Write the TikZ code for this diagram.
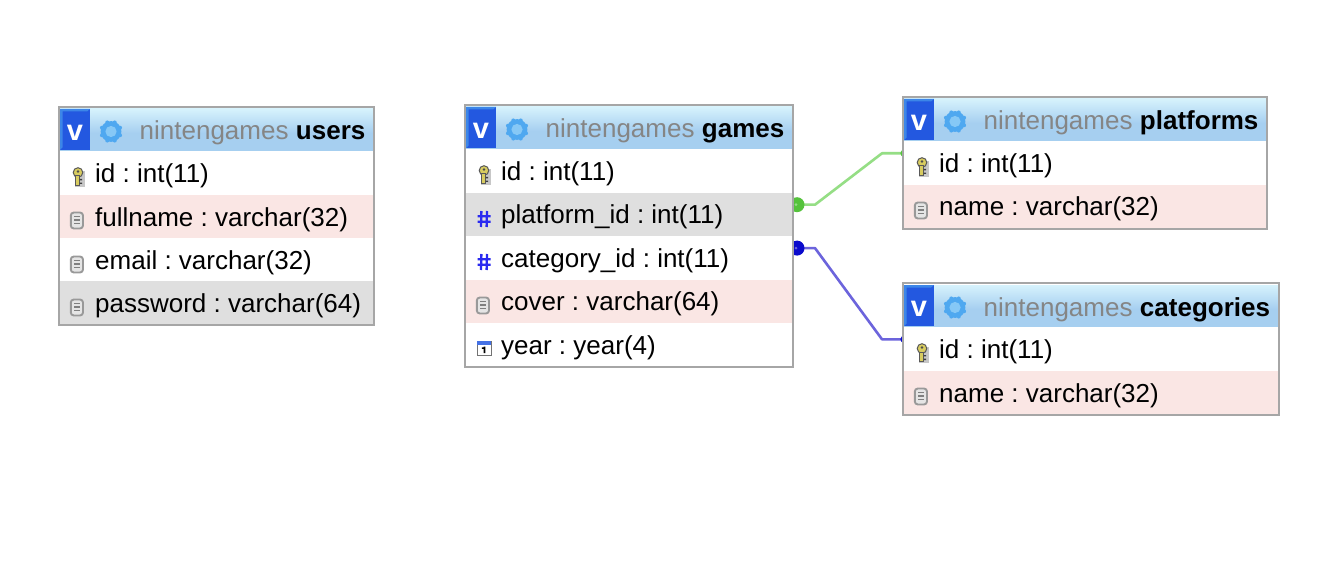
\documentclass[tikz,border=0pt]{standalone}
\usepackage{fontspec}
\setmainfont{Liberation Sans}
\usetikzlibrary{calc}
\definecolor{frameC}{HTML}{A6A6A6}
\definecolor{pinkC}{HTML}{FAE6E4}
\definecolor{greyC}{HTML}{DFDFDF}
\definecolor{headC}{HTML}{A6CFF0}
\definecolor{headL}{HTML}{D6F2FC}
\definecolor{vblue}{HTML}{2358E0}
\definecolor{vlight}{HTML}{3C86E8}
\definecolor{gearC}{HTML}{4FA8F0}
\definecolor{gearL}{HTML}{86C8F6}
\definecolor{greenC}{HTML}{55C23C}
\definecolor{greenL}{HTML}{95DE85}
\definecolor{navyC}{HTML}{0A0ACC}
\definecolor{blueL}{HTML}{6C64DC}
\definecolor{hashC}{HTML}{2A2AF0}
\definecolor{keyC}{HTML}{D8CC60}
\tikzset{
  x=1pt,y=-1pt,
  rowbox/.style={anchor=north west,inner sep=0pt,outer sep=0pt,minimum height=43.4pt},
  frame/.style={draw=frameC,line width=2.2pt,anchor=north west,inner sep=0pt,outer sep=0pt},
  rowtext/.style={anchor=base west,inner sep=0pt,font=\fontsize{26}{30}\selectfont,text=black},
  greyname/.style={anchor=base west,inner sep=0pt,font=\fontsize{26}{30}\selectfont,text=black!48},
  boldname/.style={anchor=base west,inner sep=0pt,font=\fontsize{26}{30}\bfseries\selectfont,text=black},
  greenline/.style={draw=greenL,line width=2.6pt,line join=round},
  blueline/.style={draw=blueL,line width=2.6pt,line join=round},
}
\newcommand{\keyicon}[1]{%
  \begin{scope}[shift={(#1)}]
    \fill[black!22] (-3,-6) rectangle (7,10);
    \fill[keyC,draw=black!65,line width=1pt] (0,-4.5) circle (4.8);
    \fill[black!70] (0,-5.5) circle (1.3);
    \fill[keyC,draw=black!65,line width=1pt] (-2.6,-1) rectangle (1.6,8.5);
    \fill[black!75] (1.6,2) rectangle (4,3.4) (1.6,5.6) rectangle (4,7);
  \end{scope}}
\newcommand{\docicon}[1]{%
  \begin{scope}[shift={(#1)}]
    \draw[rounded corners=3pt,fill=black!10,draw=black!40,line width=1.9pt] (-6.2,-7.5) rectangle (6,8.5);
    \draw[black!50,line width=1.3pt] (-3,-3.6)--(3,-3.6) (-3,0)--(3,0) (-3,3.6)--(3,3.6);
  \end{scope}}
\newcommand{\hashicon}[1]{%
  \begin{scope}[shift={(#1)}]
    \draw[hashC,line width=2.3pt] (-2.6,-8)--(-3,8) (3,-8)--(2.6,8) (-6.5,-2.8)--(6.5,-2.8) (-6.5,2.8)--(6.5,2.8);
  \end{scope}}
\newcommand{\calicon}[1]{%
  \begin{scope}[shift={(#1)}]
    \fill[white] (-7,-7) rectangle (7,7);
    \draw[black!55,line width=1pt] (-7,-7) rectangle (7,7);
    \fill[vblue!85!white] (-7,-7) rectangle (7,-3.5);
    \fill[black] (-.5,-1.5) rectangle (1.4,5) (-2.2,-.6) rectangle (0,.8);
  \end{scope}}
% #1 name, #2 x, #3 y, #4 width, #5 title
\newcommand{\headrow}[5]{%
  \fill[headC] (#2,#3) rectangle ++(#4,42);
  \fill[top color=headL,bottom color=headC] (#2,#3) rectangle ++(#4,24);
  \fill[vblue] (#2,#3) rectangle ++(30,41);
  \fill[vlight] (#2,#3) -- ++(30,0) -- ++(-3,2.5) -- ++(-24.5,0) -- ++(0,36) -- ++(-2.5,2.5) -- cycle;
  \node[font=\fontsize{29}{30}\bfseries\selectfont,text=white,inner sep=0pt] (#1-v) at (#2+15,#3+23.5) {v};
  \fill[gearC] (#2+51,#3+22.5) circle (10.4);
  \foreach \a in {0,45,...,315}{\fill[gearC] (#2+51,#3+22.5) ++(\a+22.5:9.8) circle (2);}
  \fill[gearL] (#2+51,#3+22.5) circle (5.6);
  \node[greyname] (#1-t1) at (#2+79.5,#3+31) {nintengames};
  \node[boldname] (#1-t2) at ([xshift=7pt]#1-t1.base east) {#5};
}
% #1 name, #2 x, #3 y, #4 width, #5 fill, #6 text
\newcommand{\rowcell}[6]{%
  \node[rowbox,fill=#5,minimum width=#4 pt] (#1) at (#2,#3) {};
  \node[rowtext] (#1-l) at (#2+35,#3+31) {#6};
}
\begin{document}
\frenchspacing
\begin{tikzpicture}
\useasboundingbox (0,0) rectangle (1344,564);
\fill[white] (0,0) rectangle (1344,564);

% users
\headrow{users}{60}{109}{313}{users}
\rowcell{users-id}{60}{151.6}{313}{white}{id : int(11)}
\rowcell{users-fullname}{60}{195}{313}{pinkC}{fullname : varchar(32)}
\rowcell{users-email}{60}{238.4}{313}{white}{email : varchar(32)}
\rowcell{users-password}{60}{281.3}{313}{greyC}{password : varchar(64)}
\keyicon{78,177}\docicon{77,220}\docicon{77,264}\docicon{77,307}
\node[frame,minimum width=315pt,minimum height=218pt] (users) at (59,107) {};

% games
\headrow{games}{466}{107}{326}{games}
\rowcell{games-id}{466}{149.6}{326}{white}{id : int(11)}
\rowcell{games-platform}{466}{193}{326}{greyC}{platform\_id : int(11)}
\rowcell{games-category}{466}{236.4}{326}{white}{category\_id : int(11)}
\rowcell{games-cover}{466}{279.8}{326}{pinkC}{cover : varchar(64)}
\rowcell{games-year}{466}{323.2}{326}{white}{year : year(4)}
\keyicon{484,175}\hashicon{484,219}\hashicon{484,262}\docicon{483,305}\calicon{484,348}
\node[frame,minimum width=328pt,minimum height=262pt] (games) at (465,105) {};

% platforms
\headrow{platforms}{904}{99}{362}{platforms}
\rowcell{platforms-id}{904}{141.6}{362}{white}{id : int(11)}
\rowcell{platforms-name}{904}{185}{362}{pinkC}{name : varchar(32)}
\keyicon{922,167}\docicon{921,210}
\node[frame,minimum width=364pt,minimum height=132pt] (platforms) at (903,97) {};

% categories
\headrow{categories}{904}{285}{374}{categories}
\rowcell{categories-id}{904}{327.6}{374}{white}{id : int(11)}
\rowcell{categories-name}{904}{371}{374}{pinkC}{name : varchar(32)}
\keyicon{922,353}\docicon{921,396}
\node[frame,minimum width=376pt,minimum height=132pt] (categories) at (903,283) {};

% connectors
\coordinate (gA) at ([yshift=10pt]games-platform.east);
\coordinate (gB) at ([yshift=10pt]platforms-id.west);
\coordinate (bA) at ([yshift=10pt]games-category.east);
\coordinate (bB) at ([yshift=10pt]categories-id.west);
\draw[greenline] ($(gA)+(2,0)$) -- ++(21,0) -- ($(gB)+(-22,0)$) -- ($(gB)+(-3,0)$);
\draw[blueline] ($(bA)+(2,0)$) -- ++(21,0) -- ($(bB)+(-22,0)$) -- ($(bB)+(-3,0)$);
\begin{scope}
\clip (794.1,190) rectangle (830,260);
\fill[greenC] ($(gA)+(5,0)$) circle (7.5);
\fill[greenL] ($(gA)+(4,0)$) circle (1.5);
\fill[navyC] ($(bA)+(5,0)$) circle (7.5);
\fill[blueL] ($(bA)+(4,0)$) circle (1.5);
\end{scope}
\begin{scope}
\clip (890,140) rectangle (901.9,350);
\fill[greenC] (gB) circle (3.6);
\fill[navyC] (bB) circle (3.6);
\end{scope}
\end{tikzpicture}
\end{document}
